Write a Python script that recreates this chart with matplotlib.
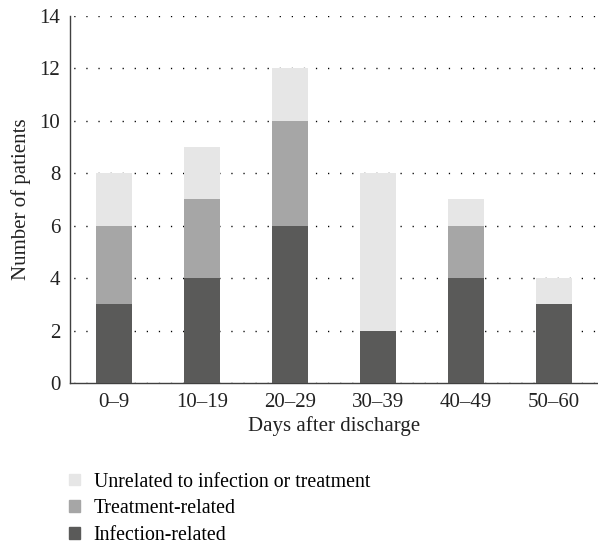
import numpy as np
import matplotlib.pyplot as plt
from matplotlib.patches import Patch

plt.rcParams['font.family'] = ['Liberation Serif', 'DejaVu Serif']

# data
categories = ['0–9', '10–19', '20–29', '30–39', '40–49', '50–60']
infection = [3, 4, 6, 2, 4, 3]
treatment = [3, 3, 4, 0, 2, 0]
unrelated = [2, 2, 2, 6, 1, 1]

c_inf = '#5a5a59'
c_trt = '#a6a6a6'
c_unr = '#e6e6e6'
fs = 15

fig = plt.figure(figsize=(5.98, 5.44), dpi=100)
ax = fig.add_axes([0.117, 0.296, 0.883, 0.675])

x = np.arange(len(categories))
inf = np.array(infection)
trt = np.array(treatment)
unr = np.array(unrelated)
w = 0.41
ax.bar(x, inf, w, color=c_inf, zorder=3)
ax.bar(x, trt, w, bottom=inf, color=c_trt, zorder=3)
ax.bar(x, unr, w, bottom=inf + trt, color=c_unr, zorder=3)

ax.set_xlim(-0.5, 5.5)
ax.set_ylim(0, 14)
ax.set_yticks(range(0, 15, 2))
ax.set_xticks(x)
ax.set_xticklabels(categories)
ax.yaxis.grid(True, color='black', linestyle=(6, (0.9, 7.8)), linewidth=1.0, zorder=0)
ax.tick_params(length=0, labelsize=fs, colors='#222222', pad=7)
for s in ('top', 'right'):
    ax.spines[s].set_visible(False)
for s in ('left', 'bottom'):
    ax.spines[s].set_color('#404040')
    ax.spines[s].set_linewidth(1.0)

ax.set_ylabel('Number of patients', fontsize=fs, color='#222222', labelpad=6)
ax.set_xlabel('Days after discharge', fontsize=fs, color='#222222', labelpad=3)

handles = [Patch(color=c_unr, label='Unrelated to infection or treatment'),
           Patch(color=c_trt, label='Treatment-related'),
           Patch(color=c_inf, label='Infection-related')]
fig.legend(handles=handles, loc='upper left', bbox_to_anchor=(0.102, 0.146),
           frameon=False, fontsize=14.3, handlelength=0.55, handleheight=0.55,
           handletextpad=0.7, labelspacing=0.4, borderaxespad=0)

fig.savefig('out.png', dpi=100, facecolor='white')
